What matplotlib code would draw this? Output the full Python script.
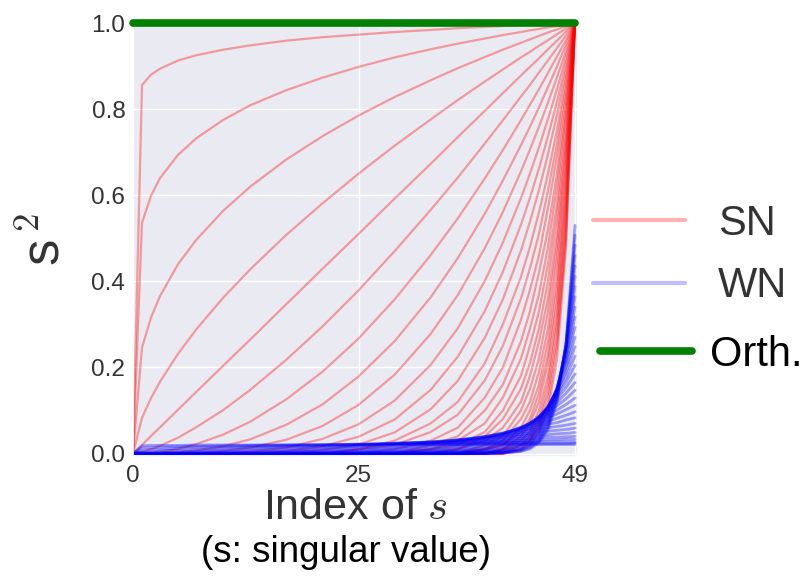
import matplotlib
matplotlib.use("Agg")
import matplotlib.pyplot as plt
import seaborn as sns
from matplotlib.lines import Line2D

# index of the singular value at which each curve is read
INDEX = [0, 1, 2, 3, 5, 7, 10, 13, 17, 21, 25, 29, 33, 36, 39, 41, 43, 44, 45, 46, 47, 48, 49]

# squared singular values, spectral normalization (SN)
SN_S2 = [
    [0, .856, .880, .894, .913, .925, .938, .948, .959, .967, .973, .979, .984, .988, .991, .993, .995, .996, .997, .997, .998, .999, 1],
    [0, .536, .599, .640, .694, .732, .775, .809, .844, .873, .898, .920, .939, .952, .964, .972, .979, .983, .986, .990, .993, .997, 1],
    [0, .246, .316, .366, .440, .496, .564, .620, .683, .737, .785, .828, .867, .895, .921, .938, .954, .962, .970, .978, .985, .993, 1],
    [0, .083, .129, .167, .232, .288, .362, .428, .508, .581, .650, .715, .776, .821, .864, .892, .920, .933, .947, .960, .974, .987, 1],
    [0, .020, .041, .061, .102, .143, .204, .265, .347, .429, .510, .592, .673, .735, .796, .837, .878, .898, .918, .939, .959, .980, 1],
    [0, .004, .010, .018, .037, .061, .101, .148, .218, .295, .379, .470, .566, .641, .720, .774, .829, .856, .885, .913, .942, .971, 1],
    [0, 0, .002, .004, .011, .022, .044, .074, .126, .190, .267, .358, .461, .546, .639, .705, .774, .810, .846, .884, .922, .960, 1],
    [0, 0, 0, .001, .003, .007, .017, .033, .067, .114, .179, .261, .363, .454, .557, .634, .716, .759, .804, .851, .899, .949, 1],
    [0, 0, 0, 0, .001, .002, .006, .014, .032, .064, .113, .183, .278, .368, .477, .561, .655, .706, .759, .815, .874, .935, 1],
    [0, 0, 0, 0, 0, 0, .002, .005, .014, .034, .068, .123, .206, .291, .401, .490, .593, .650, .711, .777, .846, .921, 1],
    [0, 0, 0, 0, 0, 0, 0, .002, .006, .017, .039, .079, .148, .225, .331, .422, .531, .594, .662, .737, .817, .905, 1],
    [0, 0, 0, 0, 0, 0, 0, 0, .002, .008, .021, .049, .103, .169, .269, .358, .471, .538, .612, .695, .787, .888, 1],
    [0, 0, 0, 0, 0, 0, 0, 0, 0, 0, .01, .03, .07, .12, .21, .30, .41, .48, .56, .65, .75, .87, 1],
    [0, 0, 0, 0, 0, 0, 0, 0, 0, 0, .01, .02, .05, .09, .17, .25, .36, .43, .51, .61, .72, .85, 1],
    [0, 0, 0, 0, 0, 0, 0, 0, 0, 0, 0, .01, .03, .06, .13, .20, .31, .38, .46, .57, .69, .83, 1],
    [0, 0, 0, 0, 0, 0, 0, 0, 0, 0, 0, 0, .02, .04, .10, .16, .26, .33, .42, .52, .65, .81, 1],
    [0, 0, 0, 0, 0, 0, 0, 0, 0, 0, 0, 0, .01, .03, .07, .13, .22, .29, .37, .48, .62, .79, 1],
    [0, 0, 0, 0, 0, 0, 0, 0, 0, 0, 0, 0, .01, .02, .05, .10, .18, .25, .33, .44, .58, .77, 1],
    [0, 0, 0, 0, 0, 0, 0, 0, 0, 0, 0, 0, 0, .01, .04, .08, .15, .21, .29, .40, .55, .74, 1],
    [0, 0, 0, 0, 0, 0, 0, 0, 0, 0, 0, 0, 0, .01, .03, .06, .12, .18, .26, .36, .51, .72, 1],
    [0, 0, 0, 0, 0, 0, 0, 0, 0, 0, 0, 0, 0, 0, .02, .04, .10, .15, .22, .33, .48, .70, 1],
    [0, 0, 0, 0, 0, 0, 0, 0, 0, 0, 0, 0, 0, 0, .01, .03, .08, .12, .19, .29, .45, .67, 1],
    [0, 0, 0, 0, 0, 0, 0, 0, 0, 0, 0, 0, 0, 0, .01, .02, .06, .10, .16, .26, .41, .65, 1],
    [0, 0, 0, 0, 0, 0, 0, 0, 0, 0, 0, 0, 0, 0, .01, .02, .05, .08, .14, .23, .38, .62, 1],
    [0, 0, 0, 0, 0, 0, 0, 0, 0, 0, 0, 0, 0, 0, 0, .01, .04, .07, .12, .21, .35, .60, 1],
    [0, 0, 0, 0, 0, 0, 0, 0, 0, 0, 0, 0, 0, 0, 0, .01, .03, .05, .10, .18, .32, .57, 1],
    [0, 0, 0, 0, 0, 0, 0, 0, 0, 0, 0, 0, 0, 0, 0, .01, .02, .04, .08, .16, .30, .55, 1],
    [0, 0, 0, 0, 0, 0, 0, 0, 0, 0, 0, 0, 0, 0, 0, 0, .02, .03, .07, .14, .27, .52, 1],
    [0, 0, 0, 0, 0, 0, 0, 0, 0, 0, 0, 0, 0, 0, 0, 0, .01, .03, .06, .12, .25, .50, 1],
    [0, 0, 0, 0, 0, 0, 0, 0, 0, 0, 0, 0, 0, 0, 0, 0, .01, .02, .05, .10, .22, .48, 1],
]

# squared singular values, weight normalization (WN)
WN_S2 = [
    [0, .018, .019, .019, .019, .020, .020, .020, .020, .020, .021, .021, .021, .021, .021, .021, .021, .021, .021, .021, .021, .021, .021],
    [0, .013, .014, .015, .016, .017, .018, .019, .020, .021, .021, .022, .022, .022, .023, .023, .023, .023, .023, .023, .023, .023, .024],
    [0, .007, .009, .010, .012, .014, .015, .017, .019, .020, .022, .023, .024, .025, .025, .026, .026, .026, .027, .027, .027, .027, .027],
    [0, .003, .004, .006, .008, .009, .012, .014, .017, .019, .021, .024, .026, .027, .028, .029, .030, .031, .031, .032, .032, .033, .033],
    [0, .001, .002, .002, .004, .006, .008, .011, .014, .017, .020, .024, .027, .029, .032, .033, .035, .036, .037, .038, .038, .039, .040],
    [0, 0, 0, .001, .002, .003, .005, .007, .011, .014, .018, .023, .027, .031, .035, .038, .040, .042, .043, .044, .046, .047, .049],
    [0, 0, 0, 0, .001, .001, .003, .004, .007, .011, .016, .021, .027, .032, .037, .041, .045, .047, .050, .052, .054, .056, .059],
    [0, 0, 0, 0, 0, 0, .001, .002, .005, .008, .013, .018, .025, .032, .039, .044, .050, .053, .056, .060, .063, .066, .070],
    [0, 0, 0, 0, 0, 0, 0, .001, .003, .005, .009, .015, .023, .031, .040, .047, .054, .058, .063, .068, .072, .078, .083],
    [0, 0, 0, 0, 0, 0, 0, 0, .001, .003, .007, .012, .020, .028, .039, .048, .058, .063, .069, .075, .082, .089, .097],
    [0, 0, 0, 0, 0, 0, 0, 0, .001, .002, .004, .009, .017, .025, .037, .047, .060, .067, .074, .083, .092, .102, .112],
    [0, 0, 0, 0, 0, 0, 0, 0, 0, .001, .003, .006, .013, .022, .035, .046, .061, .069, .079, .090, .101, .114, .129],
    [0, 0, 0, 0, 0, 0, 0, 0, 0, 0, .002, .004, .010, .018, .031, .044, .061, .071, .082, .096, .111, .127, .147],
    [0, 0, 0, 0, 0, 0, 0, 0, 0, 0, .001, .003, .007, .015, .028, .041, .059, .071, .085, .101, .119, .140, .165],
    [0, 0, 0, 0, 0, 0, 0, 0, 0, 0, 0, .002, .005, .012, .024, .037, .057, .070, .086, .105, .127, .153, .185],
    [0, 0, 0, 0, 0, 0, 0, 0, 0, 0, 0, .001, .004, .009, .020, .033, .054, .068, .086, .107, .134, .166, .205],
    [0, 0, 0, 0, 0, 0, 0, 0, 0, 0, 0, .001, .002, .006, .016, .029, .050, .065, .085, .109, .140, .178, .226],
    [0, 0, 0, 0, 0, 0, 0, 0, 0, 0, 0, 0, .001, .005, .013, .025, .046, .061, .082, .109, .145, .190, .248],
    [0, 0, 0, 0, 0, 0, 0, 0, 0, 0, 0, 0, .001, .003, .010, .021, .041, .057, .079, .109, .148, .201, .270],
    [0, 0, 0, 0, 0, 0, 0, 0, 0, 0, 0, 0, .001, .002, .008, .017, .036, .052, .075, .107, .151, .211, .293],
    [0, 0, 0, 0, 0, 0, 0, 0, 0, 0, 0, 0, 0, .001, .006, .014, .032, .047, .070, .104, .152, .220, .317],
    [0, 0, 0, 0, 0, 0, 0, 0, 0, 0, 0, 0, 0, .001, .004, .011, .027, .042, .065, .100, .152, .228, .340],
    [0, 0, 0, 0, 0, 0, 0, 0, 0, 0, 0, 0, 0, .001, .003, .008, .023, .037, .060, .096, .151, .235, .364],
    [0, 0, 0, 0, 0, 0, 0, 0, 0, 0, 0, 0, 0, 0, .002, .006, .019, .032, .055, .091, .149, .241, .388],
    [0, 0, 0, 0, 0, 0, 0, 0, 0, 0, 0, 0, 0, 0, .001, .005, .016, .028, .049, .085, .145, .246, .412],
    [0, 0, 0, 0, 0, 0, 0, 0, 0, 0, 0, 0, 0, 0, .001, .004, .013, .024, .044, .079, .141, .250, .436],
    [0, 0, 0, 0, 0, 0, 0, 0, 0, 0, 0, 0, 0, 0, .001, .003, .010, .020, .038, .073, .136, .252, .460],
    [0, 0, 0, 0, 0, 0, 0, 0, 0, 0, 0, 0, 0, 0, 0, .002, .008, .017, .033, .067, .131, .253, .484],
    [0, 0, 0, 0, 0, 0, 0, 0, 0, 0, 0, 0, 0, 0, 0, .001, .006, .014, .029, .061, .125, .254, .507],
    [0, 0, 0, 0, 0, 0, 0, 0, 0, 0, 0, 0, 0, 0, 0, .001, .005, .011, .025, .055, .118, .253, .530],
]

# orthogonal matrix: every squared singular value equals 1
ORTH_INDEX = [0, 49]
ORTH_S2 = [1.0, 1.0]

X_TICKS = [0, 25, 49]
Y_TICKS = [0, 0.2, 0.4, 0.6, 0.8, 1.0]
Y_TICK_LABELS = ['0.0', '0.2', '0.4', '0.6', '0.8', '1.0']

sns.set_theme(style="darkgrid")
plt.rcParams['font.family'] = ['Liberation Sans', 'DejaVu Sans']
plt.rcParams['mathtext.fontset'] = 'cm'

fig = plt.figure(figsize=(8.08, 5.82), dpi=100)
ax = fig.add_axes([133 / 808, 125 / 582, 445 / 808, 434 / 582])
for r in SN_S2:
    ax.plot(INDEX, r, color='red', alpha=0.35, lw=1.6)
for b in WN_S2:
    ax.plot(INDEX, b, color='blue', alpha=0.35, lw=2.0)
ax.plot(ORTH_INDEX, ORTH_S2, color='green', lw=5.5, solid_capstyle='round', clip_on=False, zorder=5)

ax.set_xlim(0, 49.33)
ax.set_ylim(-0.008, 1.0)
ax.set_xticks(X_TICKS)
ax.set_yticks(Y_TICKS)
ax.set_yticklabels(Y_TICK_LABELS)
ax.tick_params(axis='both', length=0)
ax.tick_params(axis='y', labelsize=17.5, labelcolor='#333333', pad=5.5)
ax.tick_params(axis='x', labelsize=17.5, labelcolor='#333333', pad=5.5)
ax.set_xlabel('Index of $s$', fontsize=31, color='#333333')
ax.xaxis.set_label_coords(0.5, -0.072)
ax.set_ylabel('s$^{\\,2}$', fontsize=38, color='#333333')
ax.yaxis.set_label_coords(-0.14, 0.5)
fig.text(346 / 808, 29 / 582, '(s: singular value)', fontsize=26.5, color='black', ha='center', va='center')

sn = Line2D([], [], color='red', alpha=0.3, lw=3)
wn = Line2D([], [], color='blue', alpha=0.25, lw=3)
og = Line2D([], [], color='green', lw=5.5, solid_capstyle='round')
fig.legend(handles=[sn, wn], labels=['SN', 'WN'], loc='center left', bbox_to_anchor=(593 / 808, (582 - 255) / 582),
           frameon=False, fontsize=30, handlelength=2.2, handletextpad=0.8, labelspacing=0.55,
           borderaxespad=0, borderpad=0, labelcolor='#333333')
fig.legend(handles=[og], labels=['Orth.'], loc='center left', bbox_to_anchor=(600 / 808, (582 - 355) / 582),
           frameon=False, fontsize=30, handlelength=2.2, handletextpad=0.45,
           borderaxespad=0, borderpad=0, labelcolor='black')
fig.savefig('out.png', dpi=100)
